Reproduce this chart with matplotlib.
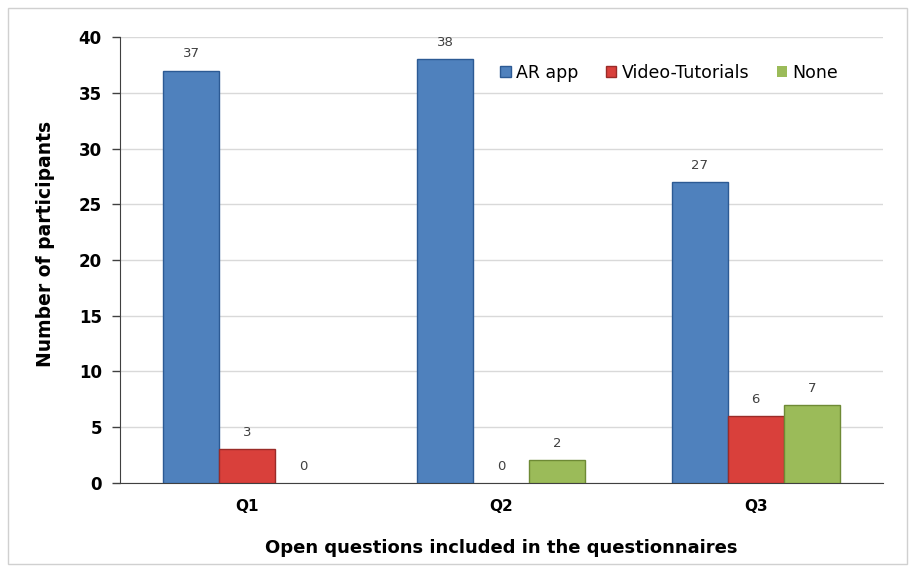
import numpy as np
import matplotlib.pyplot as plt
from matplotlib.patches import Rectangle

# --- DATA ---
questions = ["Q1", "Q2", "Q3"]
ar_app = [37, 38, 27]
video = [3, 0, 6]
none = [0, 2, 7]

series = [("AR app", ar_app, "#4F81BD", "#2C5A94"),
          ("Video-Tutorials", video, "#D9403B", "#9A2B28"),
          ("None", none, "#9BBB59", "#6E8A35")]

fig = plt.figure(figsize=(9.15, 5.72), dpi=100)
ax = fig.add_axes([0.131, 0.156, 0.834, 0.779])

# light border around the whole chart
fig.patches.append(Rectangle((0.009, 0.014), 0.982, 0.972, transform=fig.transFigure,
                             fill=False, edgecolor="#d0d0d0", linewidth=1))

x = np.arange(len(questions))
w = 0.22
for i, (name, vals, col, edge) in enumerate(series):
    pos = x + (i - 1) * w
    lw = [1 if v > 0 else 0 for v in vals]
    bars = ax.bar(pos, vals, width=w, color=col, edgecolor=edge, linewidth=lw, label=name, zorder=3)
    for b, v in zip(bars, vals):
        ax.text(b.get_x() + b.get_width() / 2, v + 1.5, str(v), ha="center", va="center",
                fontsize=9.5, color="#404040")

ax.set_xlim(-0.5, 2.5)
ax.set_ylim(0, 40)
ax.set_yticks(range(0, 41, 5))
ax.set_xticks(x)
ax.set_xticklabels(questions, fontsize=11, fontweight="bold")
for t in ax.get_yticklabels():
    t.set_fontsize(12)
    t.set_fontweight("bold")
ax.tick_params(axis="x", length=0, pad=12)
ax.tick_params(axis="y", direction="out", length=6, width=1, pad=7, color="#404040")

ax.grid(axis="y", color="#d9d9d9", linewidth=1, zorder=0)
ax.set_axisbelow(True)
for s in ["top", "right"]:
    ax.spines[s].set_visible(False)
ax.spines["left"].set_color("#404040")
ax.spines["bottom"].set_color("#404040")

ax.set_ylabel("Number of participants", fontsize=13.5, fontweight="bold")
ax.yaxis.set_label_coords(-0.085, 0.536)
ax.set_xlabel("Open questions included in the questionnaires", fontsize=13, fontweight="bold", labelpad=18)

ax.legend(loc="upper left", bbox_to_anchor=(0.478, 0.975), ncol=3, frameon=False, fontsize=12.5,
          handlelength=0.6, handleheight=0.6, handletextpad=0.3, columnspacing=1.6)

plt.savefig("out.png", dpi=100)
